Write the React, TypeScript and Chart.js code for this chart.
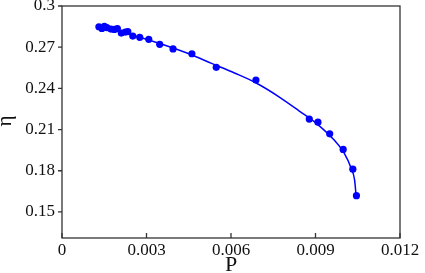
import React, { useEffect, useRef } from "react";
import { Chart, registerables } from "chart.js";

Chart.register(...registerables);

// Measured points (P, eta)
const pointP = [0.00131, 0.001416, 0.001504, 0.001593, 0.001735, 0.001858, 0.001965, 0.002106, 0.002248, 0.002336, 0.002513, 0.002761, 0.00308, 0.003469, 0.003942, 0.004612, 0.005476, 0.006885, 0.008779, 0.009087, 0.009504, 0.009982, 0.010326, 0.010453];
const pointEta = [0.2849, 0.2836, 0.2851, 0.2843, 0.2832, 0.2829, 0.2836, 0.2803, 0.281, 0.2814, 0.2781, 0.2772, 0.2757, 0.2721, 0.2687, 0.2652, 0.2553, 0.2461, 0.2176, 0.2154, 0.2069, 0.1955, 0.1811, 0.1618];

// Fitted curve
const curveP = [0.001345, 0.002407, 0.003469, 0.004531, 0.00531, 0.006124, 0.006878, 0.007717, 0.008425, 0.009062, 0.009664, 0.010018, 0.010265, 0.010389, 0.010442];
const curveEta = [0.2847, 0.2792, 0.2727, 0.265, 0.2582, 0.2512, 0.2441, 0.2337, 0.2235, 0.214, 0.2023, 0.1928, 0.1819, 0.1731, 0.1615];

const xTicks = [0, 0.003, 0.006, 0.009, 0.012];
const xTickLabels = ["0", "0.003", "0.006", "0.009", "0.012"];
const yTicks = [0.15, 0.18, 0.21, 0.24, 0.27, 0.3];
const yTickLabels = ["0.15", "0.18", "0.21", "0.24", "0.27", "0.3"];

const xTitle = "P";
const yTitle = "η";

const FONT = "'Liberation Serif', 'Times New Roman', serif";

const framePlugin = {
  id: "frame",
  afterDraw(chart: any) {
    const { ctx, chartArea } = chart;
    const { left, right, top, bottom } = chartArea;
    const xs = chart.scales.x;
    const ys = chart.scales.y;
    ctx.save();
    ctx.strokeStyle = "#333";
    ctx.lineWidth = 1.3;
    ctx.strokeRect(left, top, right - left, bottom - top);
    ctx.beginPath();
    xTicks.forEach((v) => {
      const px = xs.getPixelForValue(v);
      ctx.moveTo(px, bottom);
      ctx.lineTo(px, bottom - 5);
    });
    yTicks.forEach((v) => {
      const py = ys.getPixelForValue(v);
      ctx.moveTo(left, py);
      ctx.lineTo(left - 4, py);
    });
    ctx.stroke();

    ctx.fillStyle = "#111";
    ctx.textAlign = "center";
    ctx.textBaseline = "alphabetic";
    ctx.font = `22px ${FONT}`;
    ctx.fillText(xTitle, (left + right) / 2, 271);

    ctx.translate(11, 121);
    ctx.rotate(-Math.PI / 2);
    ctx.font = `21px ${FONT}`;
    ctx.textBaseline = "alphabetic";
    ctx.fillText(yTitle, 0, 0);
    ctx.restore();
  },
};

export default function App() {
  const canvasRef = useRef<HTMLCanvasElement | null>(null);

  useEffect(() => {
    if (!canvasRef.current) return;
    const chart = new Chart(canvasRef.current, {
      type: "scatter",
      data: {
        datasets: [
          {
            label: "data",
            data: pointP.map((p, i) => ({ x: p, y: pointEta[i] })),
            backgroundColor: "#0000ff",
            borderColor: "#0000ff",
            pointRadius: 3.6,
            pointBorderWidth: 0,
            showLine: false,
          },
          {
            label: "fit",
            data: curveP.map((p, i) => ({ x: p, y: curveEta[i] })),
            borderColor: "#0000ff",
            backgroundColor: "#0000ff",
            borderWidth: 1.5,
            pointRadius: 0,
            showLine: true,
            cubicInterpolationMode: "monotone",
          } as any,
        ],
      },
      options: {
        animation: false,
        responsive: false,
        maintainAspectRatio: false,
        layout: { padding: { top: 6, right: 25, left: 0, bottom: 0 } },
        plugins: {
          legend: { display: false },
          tooltip: { enabled: false },
        },
        scales: {
          x: {
            type: "linear",
            min: 0,
            max: 0.012,
            grid: { display: false, drawTicks: false },
            border: { display: false },
            afterBuildTicks: (s: any) => {
              s.ticks = xTicks.map((v) => ({ value: v }));
            },
            afterFit: (s: any) => {
              s.height = 35;
              s.paddingLeft = 0;
              s.paddingRight = 0;
            },
            ticks: {
              padding: 2,
              color: "#111",
              font: { family: FONT, size: 17 },
              maxRotation: 0,
              autoSkip: false,
              callback: (_v: any, i: number) => xTickLabels[i],
            },
          },
          y: {
            type: "linear",
            min: 0.131,
            max: 0.3,
            grid: { display: false, drawTicks: false },
            border: { display: false },
            afterBuildTicks: (s: any) => {
              s.ticks = yTicks.map((v) => ({ value: v }));
            },
            afterFit: (s: any) => {
              s.width = 62;
              s.paddingTop = 0;
              s.paddingBottom = 0;
            },
            ticks: {
              padding: 7,
              color: "#111",
              font: { family: FONT, size: 17 },
              autoSkip: false,
              callback: (_v: any, i: number) => yTickLabels[i],
            },
          },
        },
      },
      plugins: [framePlugin],
    });
    return () => chart.destroy();
  }, []);

  return (
    <div style={{ position: "fixed", left: 0, top: 0, width: 425, height: 273, background: "#fff" }}>
      <canvas ref={canvasRef} width={425} height={273} style={{ display: "block" }} />
    </div>
  );
}
